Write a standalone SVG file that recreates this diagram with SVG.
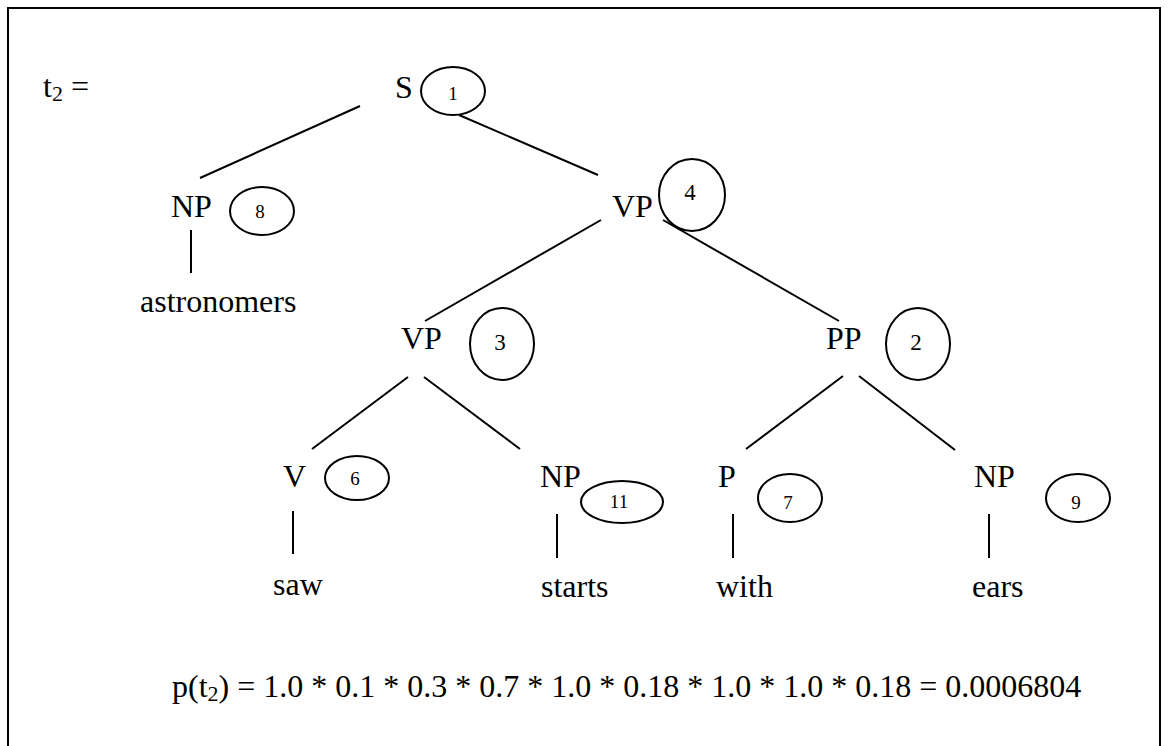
<svg xmlns="http://www.w3.org/2000/svg" width="1171" height="746" viewBox="0 0 1171 746">
<style>
.ell{fill:none;stroke:#000;stroke-width:2}
.edge{stroke:#000;stroke-width:2;fill:none}
</style>
<rect x="0" y="0" width="1171" height="746" fill="#fff"/>
<path d="M8 750 V8 H1160 V750" fill="none" stroke="#000" stroke-width="2"/>
<g id="connectors">
<line class="edge" x1="360" y1="106" x2="200" y2="178"/>
<line class="edge" x1="459" y1="115" x2="598" y2="175"/>
<line class="edge" x1="601" y1="220" x2="425" y2="321"/>
<line class="edge" x1="663" y1="220" x2="839" y2="321"/>
<line class="edge" x1="408" y1="377" x2="312" y2="449"/>
<line class="edge" x1="424" y1="377" x2="520" y2="449"/>
<line class="edge" x1="843" y1="376" x2="746" y2="449"/>
<line class="edge" x1="859" y1="376" x2="955" y2="450"/>
<line class="edge" x1="191" y1="230" x2="191" y2="273"/>
<line class="edge" x1="293" y1="511" x2="293" y2="554"/>
<line class="edge" x1="557" y1="514" x2="557" y2="558"/>
<line class="edge" x1="733" y1="514" x2="733" y2="558"/>
<line class="edge" x1="989" y1="514" x2="989" y2="558"/>
</g>
<text x="43" y="97" style="font-family:'Liberation Serif',serif" font-size="32">t<tspan font-size="22" dy="4">2</tspan><tspan dy="-4"> =</tspan></text>
<g id="n-S"><text x="395" y="98" style="font-family:'Liberation Serif',serif" font-size="32">S</text><ellipse class="ell" cx="453" cy="91" rx="32" ry="24"/><text x="453" y="100" style="font-family:'Liberation Serif',serif" font-size="19" text-anchor="middle">1</text></g>
<g id="n-NP8"><text x="171" y="217" style="font-family:'Liberation Serif',serif" font-size="32">NP</text><ellipse class="ell" cx="262" cy="211" rx="32" ry="24"/><text x="260" y="218" style="font-family:'Liberation Serif',serif" font-size="19" text-anchor="middle">8</text></g>
<g id="n-astronomers"><text x="140" y="312" style="font-family:'Liberation Serif',serif" font-size="32">astronomers</text></g>
<g id="n-VP4"><text x="612" y="217" style="font-family:'Liberation Serif',serif" font-size="32">VP</text><ellipse class="ell" cx="692" cy="195" rx="33" ry="36"/><text x="690" y="200" style="font-family:'Liberation Serif',serif" font-size="23" text-anchor="middle">4</text></g>
<g id="n-VP3"><text x="401" y="349" style="font-family:'Liberation Serif',serif" font-size="32">VP</text><ellipse class="ell" cx="502" cy="344" rx="32" ry="36"/><text x="500" y="350" style="font-family:'Liberation Serif',serif" font-size="23" text-anchor="middle">3</text></g>
<g id="n-PP"><text x="826" y="349" style="font-family:'Liberation Serif',serif" font-size="32">PP</text><ellipse class="ell" cx="918" cy="344" rx="32" ry="36"/><text x="916" y="350" style="font-family:'Liberation Serif',serif" font-size="23" text-anchor="middle">2</text></g>
<g id="n-V"><text x="283" y="487" style="font-family:'Liberation Serif',serif" font-size="32">V</text><ellipse class="ell" cx="357" cy="478" rx="32" ry="22"/><text x="355" y="485" style="font-family:'Liberation Serif',serif" font-size="19" text-anchor="middle">6</text></g>
<g id="n-NP11"><text x="540" y="487" style="font-family:'Liberation Serif',serif" font-size="32">NP</text><ellipse class="ell" cx="622" cy="502" rx="41" ry="21"/><text x="619" y="508" style="font-family:'Liberation Serif',serif" font-size="19" text-anchor="middle">11</text></g>
<g id="n-P"><text x="718" y="487" style="font-family:'Liberation Serif',serif" font-size="32">P</text><ellipse class="ell" cx="790" cy="498" rx="32" ry="24"/><text x="788" y="509" style="font-family:'Liberation Serif',serif" font-size="19" text-anchor="middle">7</text></g>
<g id="n-NP9"><text x="974" y="487" style="font-family:'Liberation Serif',serif" font-size="32">NP</text><ellipse class="ell" cx="1078" cy="498" rx="32" ry="24"/><text x="1076" y="509" style="font-family:'Liberation Serif',serif" font-size="19" text-anchor="middle">9</text></g>
<g id="n-saw"><text x="273" y="595" style="font-family:'Liberation Serif',serif" font-size="32">saw</text></g>
<g id="n-starts"><text x="541" y="597" style="font-family:'Liberation Serif',serif" font-size="32">starts</text></g>
<g id="n-with"><text x="716" y="597" style="font-family:'Liberation Serif',serif" font-size="32">with</text></g>
<g id="n-ears"><text x="972" y="597" style="font-family:'Liberation Serif',serif" font-size="32">ears</text></g>
<text x="172" y="697" style="font-family:'Liberation Serif',serif" font-size="32">p(t<tspan font-size="22" dy="4">2</tspan><tspan dy="-4">) = 1.0 * 0.1 * 0.3 * 0.7 * 1.0 * 0.18 * 1.0 * 1.0 * 0.18 = 0.0006804</tspan></text>
</svg>
